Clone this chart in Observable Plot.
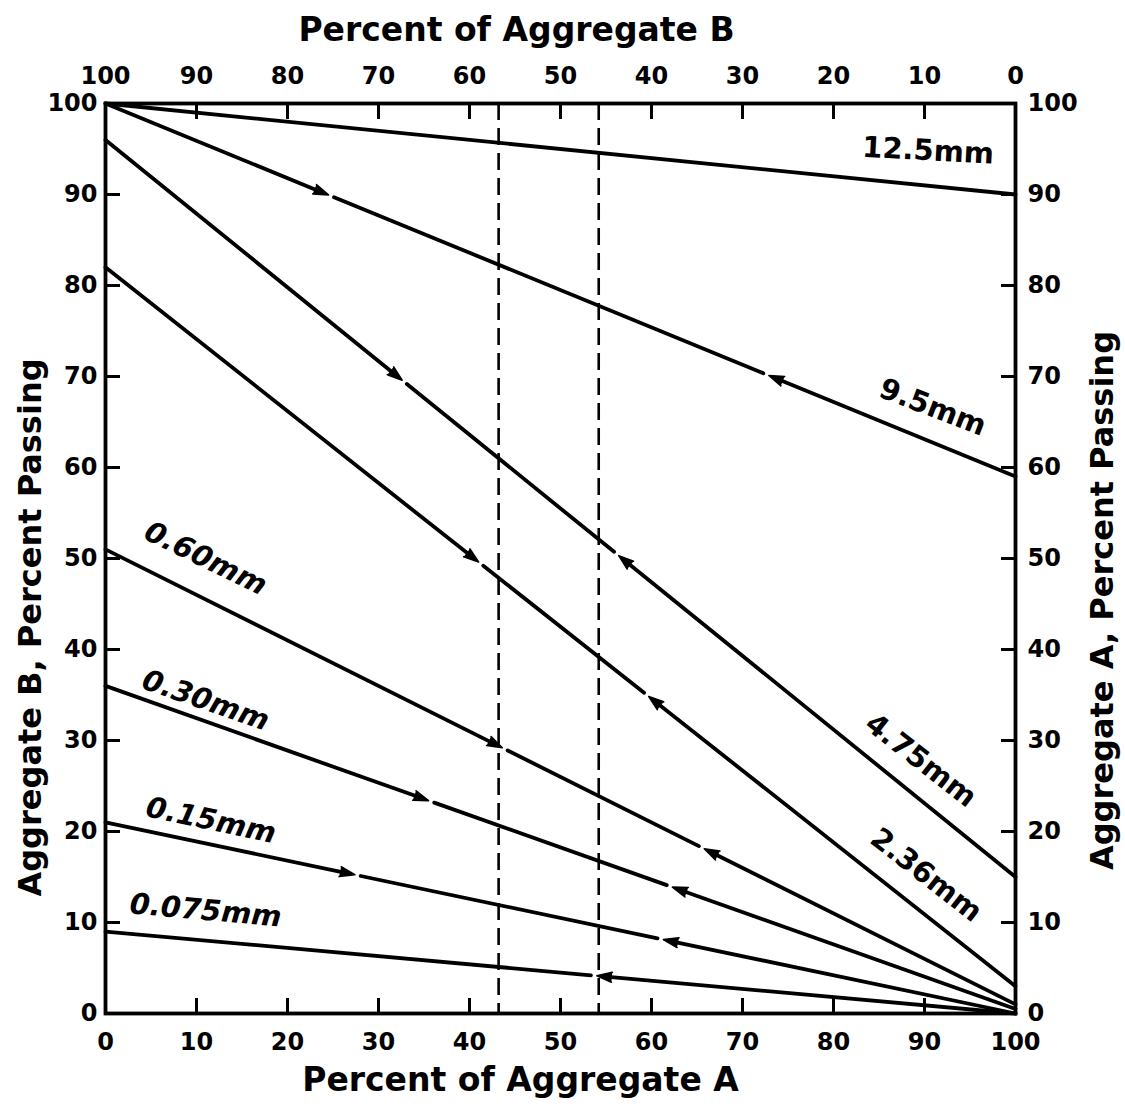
<!DOCTYPE html>
<html>
<head>
<meta charset="utf-8">
<script src="https://cdn.jsdelivr.net/npm/d3@7"></script>
<script src="https://cdn.jsdelivr.net/npm/@observablehq/plot@0.6"></script>
<style>
  html, body { margin: 0; padding: 0; background: #fff; }
  #chart svg { display: block; }
</style>
</head>
<body>
<div id="chart"></div>
<script>
// ---- data ----
const sieves     = ["12.5mm", "9.5mm", "4.75mm", "2.36mm", "0.60mm", "0.30mm", "0.15mm", "0.075mm"];
const aggB       = [100, 100, 96, 82, 51, 36, 21, 9];      // percent passing, Aggregate B (0 % A)
const aggA       = [90, 59, 15, 3, 1, 0.5, 0, 0];          // percent passing, Aggregate A (100 % A)
const limitLowX  = [null, 24.5, 32.6, 41.0, 43.6, 35.5, 27.4, null];  // % A where the line meets a spec limit (left arrow)
const limitHighX = [null, 72.9, 56.4, 59.7, 65.8, 62.3, 61.3, 54.0];  // % A where the line meets a spec limit (right arrow)
const blendLimits = [43.2, 54.2];                           // dashed verticals, % of Aggregate A
const tickValues  = [0, 10, 20, 30, 40, 50, 60, 70, 80, 90, 100];
const innerTicks  = [10, 20, 30, 40, 50, 60, 70, 80, 90];
const bottomTickLabels = ["0", "10", "20", "30", "40", "50", "60", "70", "80", "90", "100"];
const topTickLabels    = ["100", "90", "80", "70", "60", "50", "40", "30", "20", "10", "0"];
// label annotations (position in data units, angle in degrees)
const labelX     = [90.4, 90.9, 89.6, 90.2, 11.0, 11.0, 11.6, 11.0];
const labelY     = [94.8, 66.6, 27.8, 15.2, 50.0, 34.4, 21.2, 11.3];
const labelAngle = [3, 21, 38, 38, 26, 19, 12, 5];
const labelItalic = [false, false, false, false, true, true, true, true];

// ---- build tables ----
const rows = sieves.map((s, i) => ({sieve: s, b: aggB[i], a: aggA[i], lo: limitLowX[i], hi: limitHighX[i]}));
const yAt = (r, x) => r.b + (r.a - r.b) * x / 100;

const leftArrows = rows.filter(r => r.lo != null).map(r => ({x1: 0, y1: r.b, x2: r.lo, y2: yAt(r, r.lo)}));
const rightArrows = rows.filter(r => r.hi != null).map(r => ({x1: 100, y1: r.a, x2: r.hi, y2: yAt(r, r.hi)}));
const arrows = leftArrows.concat(rightArrows);
const midBoth = rows.filter(r => r.lo != null && r.hi != null).map(r => ({x1: r.lo, y1: yAt(r, r.lo), x2: r.hi, y2: yAt(r, r.hi)}));
const midHiOnly = rows.filter(r => r.lo == null && r.hi != null).map(r => ({x1: 0, y1: r.b, x2: r.hi, y2: yAt(r, r.hi)}));
const fullLines = rows.filter(r => r.lo == null && r.hi == null).map(r => ({x1: 0, y1: r.b, x2: 100, y2: r.a}));

const labels = sieves.map((s, i) => ({text: s, x: labelX[i], y: labelY[i], angle: labelAngle[i], italic: labelItalic[i]}));

const FONT = "'DejaVu Sans', 'Liberation Sans', sans-serif";
const LW = 3.8;
const seg = {x1: "x1", y1: "y1", x2: "x2", y2: "y2", stroke: "black", strokeWidth: LW, strokeLinecap: "round"};
// heading of each arrow (both axes use the same pixels per unit, so the data angle equals the screen angle)
const heading = d => Math.atan2(d.x2 - d.x1, d.y2 - d.y1) * 180 / Math.PI;

const chart = Plot.plot({
  width: 1125,
  height: 1108,
  marginLeft: 105,
  marginRight: 110,
  marginTop: 103,
  marginBottom: 95,
  x: {domain: [0, 100]},
  y: {domain: [0, 100]},
  style: {fontFamily: FONT, fontWeight: "bold", color: "black", background: "white", overflow: "visible"},
  marks: [
    // dashed blend limits
    Plot.ruleX(blendLimits, {stroke: "black", strokeWidth: 2.6, strokeDasharray: "17,8"}),

    // grading lines
    Plot.link(fullLines, seg),
    Plot.arrow(midHiOnly, {...seg, headLength: 0, insetEnd: 6}),
    Plot.arrow(midBoth, {...seg, headLength: 0, insetStart: 6, insetEnd: 6}),
    Plot.arrow(arrows, {...seg, headLength: 0, insetEnd: 6}),
    // spec-limit arrowheads
    Plot.vector(arrows, {x: "x2", y: "y2", rotate: heading, length: 15, r: 5, shape: "spike", anchor: "end",
      fill: "black", stroke: "black", strokeWidth: 1.6, strokeLinejoin: "round"}),

    // line labels
    Plot.text(labels.filter(d => !d.italic), {x: "x", y: "y", text: "text", rotate: "angle",
      fontSize: 29, fontFamily: FONT, fontWeight: "bold", fill: "black"}),
    Plot.text(labels.filter(d => d.italic), {x: "x", y: "y", text: "text", rotate: "angle",
      fontSize: 29, fontFamily: FONT, fontWeight: "bold", fontStyle: "italic", fill: "black"}),

    // inward ticks
    Plot.axisY({anchor: "left", ticks: innerTicks, tickSize: 15, dx: 15, tickFormat: () => "", label: null, strokeWidth: 3}),
    Plot.axisY({anchor: "right", ticks: innerTicks, tickSize: 15, dx: -15, tickFormat: () => "", label: null, strokeWidth: 3}),
    Plot.axisX({anchor: "bottom", ticks: innerTicks, tickSize: 15, dy: -15, tickFormat: () => "", label: null, strokeWidth: 3}),
    Plot.axisX({anchor: "top", ticks: innerTicks, tickSize: 15, dy: 15, tickFormat: () => "", label: null, strokeWidth: 3}),

    // tick labels
    Plot.axisY({anchor: "left", ticks: tickValues, tickSize: 0, tickPadding: 8, label: null,
      tickFormat: d => String(d), fontSize: 24, fontWeight: "bold"}),
    Plot.axisY({anchor: "right", ticks: tickValues, tickSize: 0, tickPadding: 12, label: null,
      tickFormat: d => String(d), fontSize: 24, fontWeight: "bold"}),
    Plot.axisX({anchor: "bottom", ticks: tickValues, tickSize: 0, tickPadding: 19, label: null,
      tickFormat: d => bottomTickLabels[tickValues.indexOf(d)], fontSize: 24, fontWeight: "bold"}),
    Plot.axisX({anchor: "top", ticks: tickValues, tickSize: 0, tickPadding: 20, label: null,
      tickFormat: d => topTickLabels[tickValues.indexOf(d)], fontSize: 24, fontWeight: "bold"}),

    // axis titles
    Plot.text(["Percent of Aggregate A"], {frameAnchor: "bottom", dx: -40, dy: 67, lineAnchor: "middle", textAnchor: "middle",
      fontSize: 33, fontFamily: FONT, fontWeight: "bold", fill: "black"}),
    Plot.text(["Percent of Aggregate B"], {frameAnchor: "top", dx: -44, dy: -73, lineAnchor: "middle", textAnchor: "middle",
      fontSize: 33, fontFamily: FONT, fontWeight: "bold", fill: "black"}),
    Plot.text(["Aggregate B, Percent Passing"], {frameAnchor: "left", dx: -75, dy: 69, rotate: -90, lineAnchor: "middle", textAnchor: "middle",
      fontSize: 32, fontFamily: FONT, fontWeight: "bold", fill: "black"}),
    Plot.text(["Aggregate A, Percent Passing"], {frameAnchor: "right", dx: 87, dy: 42, rotate: -90, lineAnchor: "middle", textAnchor: "middle",
      fontSize: 32, fontFamily: FONT, fontWeight: "bold", fill: "black"}),

    // frame
    Plot.frame({stroke: "black", strokeWidth: 3.8})
  ]
});
document.getElementById("chart").appendChild(chart);
</script>
</body>
</html>
